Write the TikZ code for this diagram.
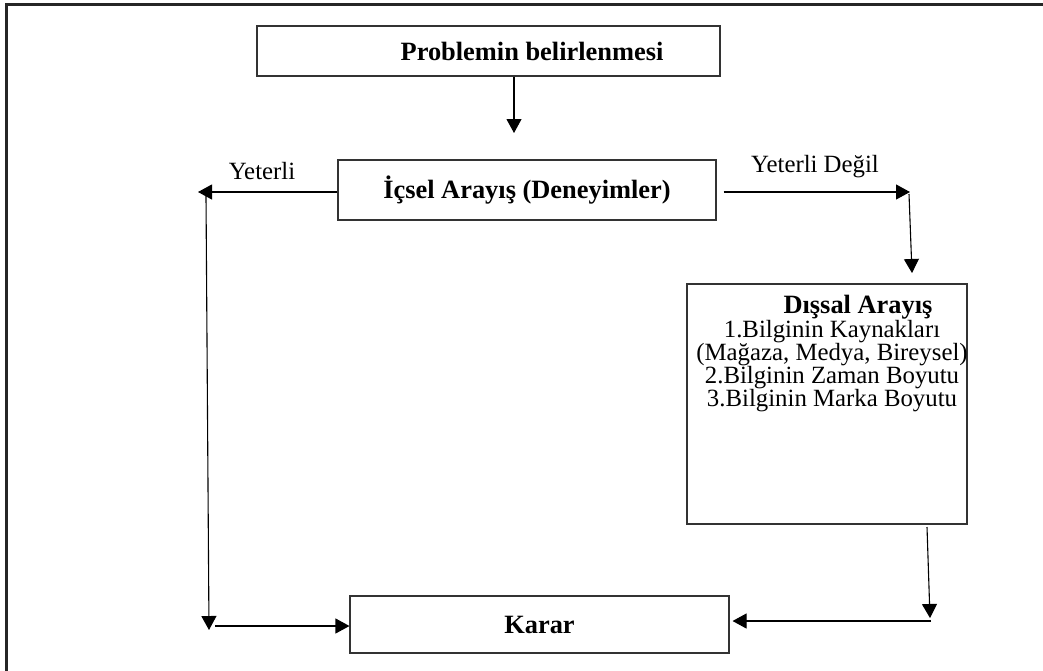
\documentclass[tikz,border=0pt]{standalone}
\usepackage{fontspec}
\setmainfont{Liberation Serif}
\usetikzlibrary{arrows.meta}
\begin{document}
\begin{tikzpicture}[x=0.5pt,y=-0.5pt,
  box/.style={draw=black!80, line width=0.55pt, inner sep=0pt},
  conn/.style={draw=black, line width=0.55pt},
  arr/.style={conn, -{Triangle[length=7pt,width=7.5pt]}},
  txt/.style={inner sep=0pt, font=\fontsize{12.4pt}{11.5pt}\selectfont},
  btxt/.style={inner sep=0pt, font=\fontsize{13.2pt}{12pt}\selectfont\bfseries}]
\useasboundingbox (0,0) rectangle (1043,670);
\clip (0,0) rectangle (1043,670);
% outer frame
\draw[line width=1.5pt, black!85] (6.5,700) -- (6.5,4.5) -- (1080,4.5);

% boxes
\node[box, minimum width=231.5pt, minimum height=25pt] (prob) at (488.5,51) {};
\node[btxt] (probT) at (532,51) {Problemin belirlenmesi};
\node[box, btxt, minimum width=189pt, minimum height=30pt] (ic) at (527,190) {İçsel Arayış (Deneyimler)};
\node[box, minimum width=140pt, minimum height=120pt] (dis) at (827,404) {};
\node[btxt] (disT) at (858,307) {Dışsal Arayış};
\node[txt, align=center] (disL) at (832,366) {1.Bilginin Kaynakları\\(Mağaza, Medya, Bireysel)\\2.Bilginin Zaman Boyutu\\3.Bilginin Marka Boyutu};
\node[box, btxt, minimum width=189.5pt, minimum height=28.5pt] (karar) at (539.5,624.5) {Karar};

% branch labels
\node[txt] (yet) at (262,171) {Yeterli};
\node[txt] (yetd) at (815,167) {Yeterli Değil};

% connectors
\coordinate (p1) at (514,133);
\draw[arr] (prob.south -| p1) -- (p1);

\coordinate (l1) at (198,192);
\draw[arr] (ic.west |- l1) -- (l1);
\coordinate (l2) at (206,196);
\coordinate (l3) at (209,630);
\draw[arr] (l2) -- (l3);
\coordinate (l4) at (215,626);
\draw[arr] (l4) -- (karar.west |- l4);

\coordinate (r1) at (910,192);
\draw[arr, shorten <=3.5pt] (ic.east |- r1) -- (r1);
\coordinate (r2) at (909,194);
\coordinate (r3) at (912,273);
\draw[arr] (r2) -- (r3);
\coordinate (r4) at (927,527);
\coordinate (r5) at (930,618);
\draw[arr] (r4) -- (r5);
\coordinate (r6) at (931,621);
\draw[arr, shorten >=1.5pt] (r6) -- (karar.east |- r6);
\end{tikzpicture}
\end{document}
